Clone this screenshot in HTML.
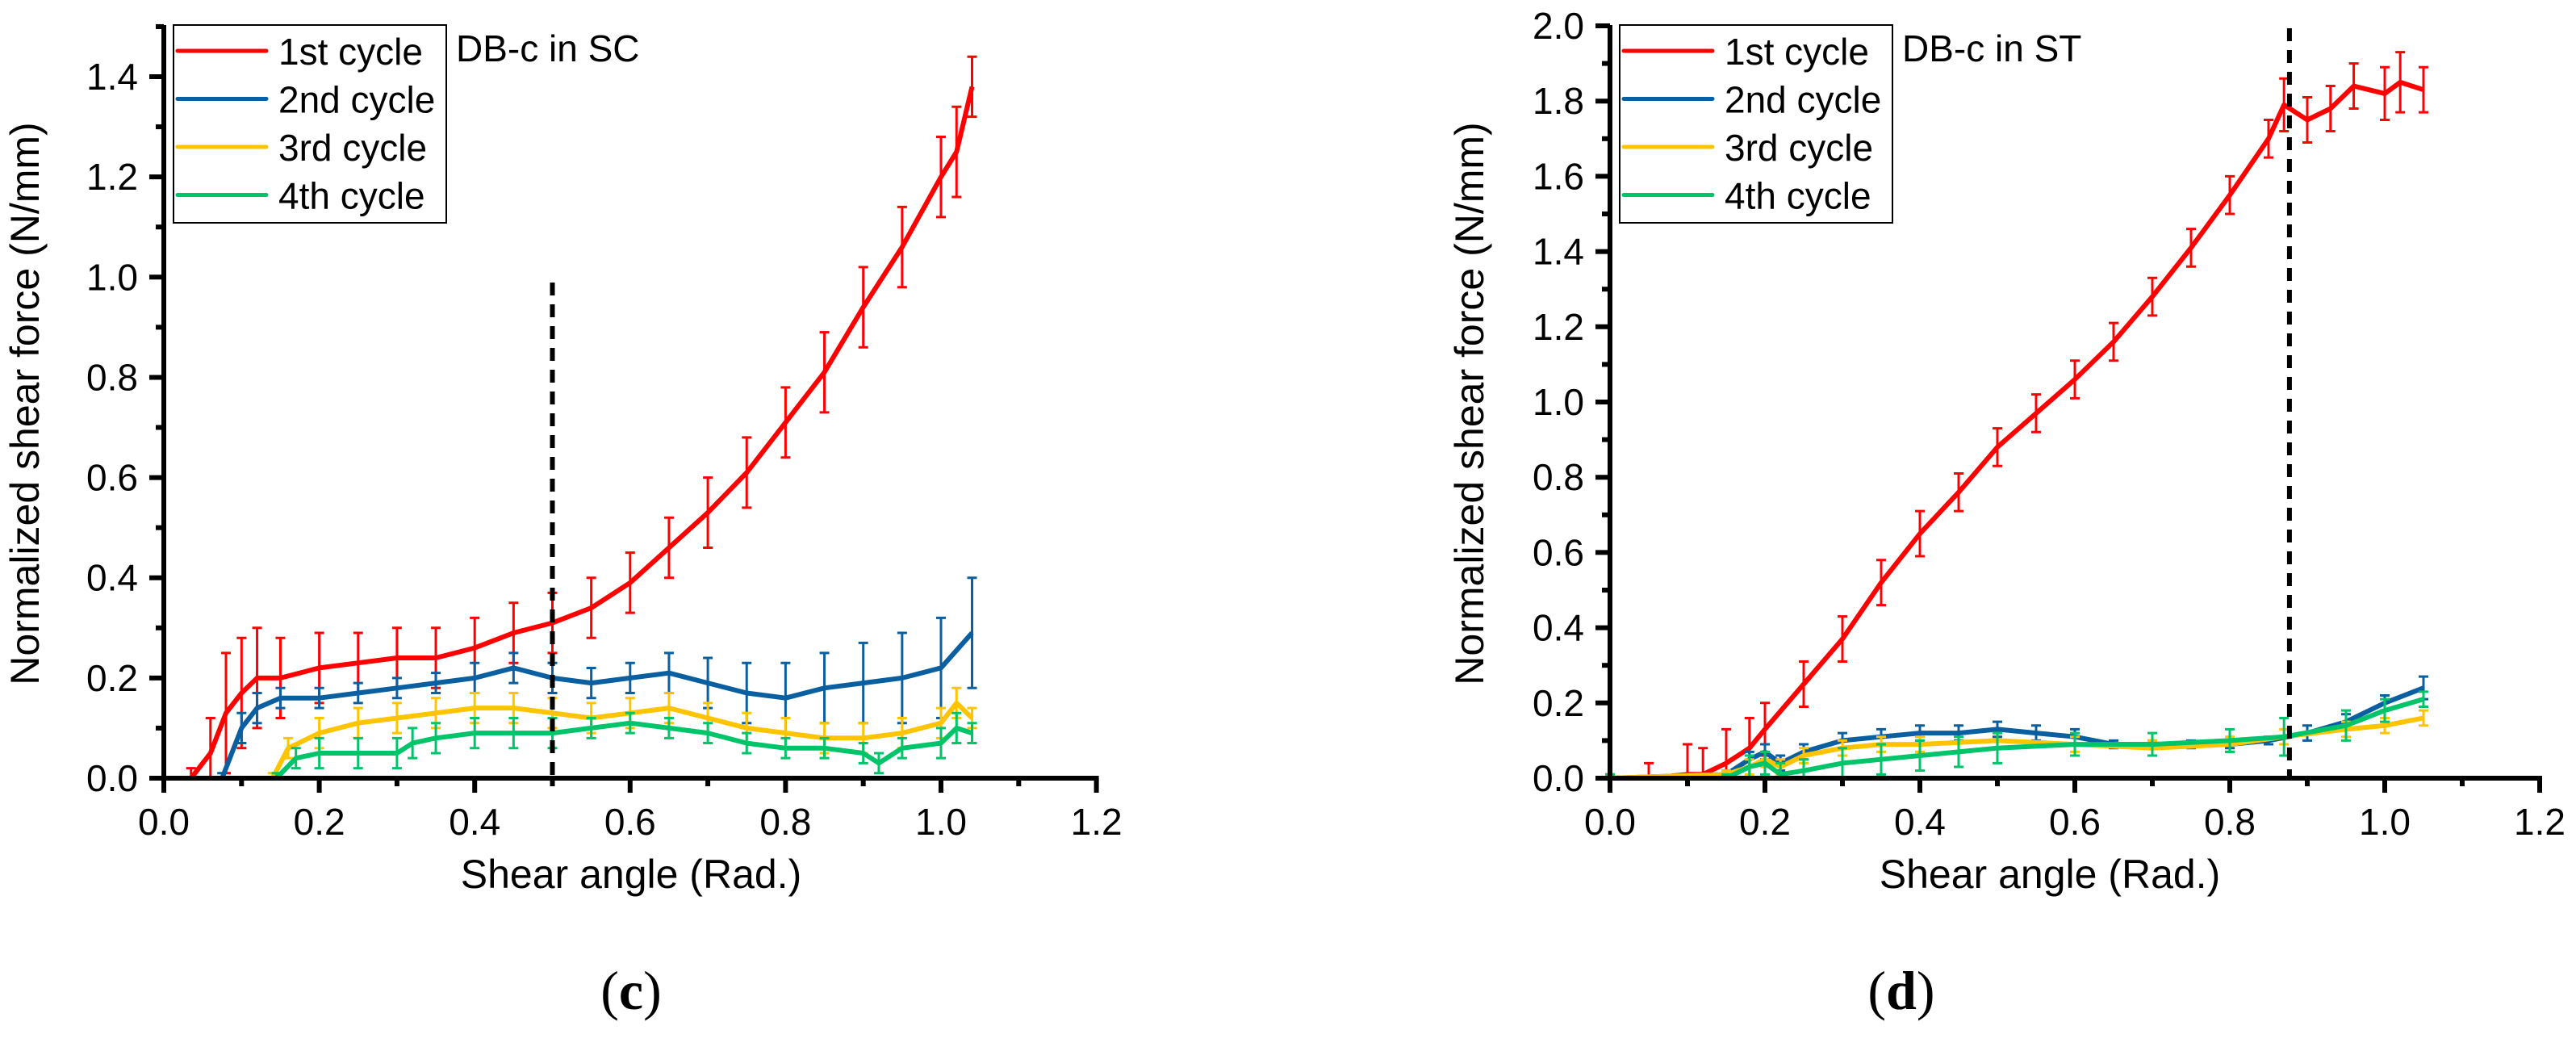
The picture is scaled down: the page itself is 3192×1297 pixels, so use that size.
<!DOCTYPE html>
<html><head><meta charset="utf-8">
<style>
html,body{margin:0;padding:0;background:#fff;}
svg{display:block;font-family:"Liberation Sans",Arial,sans-serif;}
</style></head>
<body>
<svg id="fig" width="3192" height="1297" viewBox="0 0 3192 1297" xmlns="http://www.w3.org/2000/svg">
<rect x="0" y="0" width="3192" height="1297" fill="#fff"/>
<g id="chartC"></g>
<g id="chartD"></g>
<text x="782" y="1250" font-family="Liberation Serif,serif" font-size="68" text-anchor="middle">(<tspan font-weight="bold">c</tspan>)</text>
<text x="2356" y="1250" font-family="Liberation Serif,serif" font-size="68" text-anchor="middle">(<tspan font-weight="bold">d</tspan>)</text>
</svg>
<script>
// ---------- Chart (c) data : DB-c in SC ----------
const cX1 = [0.035,0.06,0.08,0.1,0.12,0.15,0.2,0.25,0.3,0.35,0.4,0.45,0.5,0.55,0.6,0.65,0.7,0.75,0.8,0.85,0.9,0.95,1.0,1.02,1.04];
const cY1 = [0,0.05,0.13,0.17,0.2,0.2,0.22,0.23,0.24,0.24,0.26,0.29,0.31,0.34,0.39,0.46,0.53,0.61,0.71,0.81,0.94,1.06,1.2,1.25,1.38];
const cE1 = [0.02,0.07,0.12,0.11,0.1,0.08,0.07,0.06,0.06,0.06,0.06,0.06,0.06,0.06,0.06,0.06,0.07,0.07,0.07,0.08,0.08,0.08,0.08,0.09,0.06];
const cX2 = [0.075,0.1,0.12,0.15,0.2,0.25,0.3,0.35,0.4,0.45,0.5,0.55,0.6,0.65,0.7,0.75,0.8,0.85,0.9,0.95,1.0,1.04];
const cY2 = [0,0.1,0.14,0.16,0.16,0.17,0.18,0.19,0.2,0.22,0.2,0.19,0.2,0.21,0.19,0.17,0.16,0.18,0.19,0.2,0.22,0.29];
const cE2 = [0.01,0.03,0.03,0.02,0.02,0.02,0.02,0.02,0.03,0.03,0.03,0.03,0.03,0.04,0.05,0.06,0.07,0.07,0.08,0.09,0.1,0.11];
const cX3 = [0.14,0.16,0.2,0.25,0.3,0.35,0.4,0.45,0.5,0.55,0.6,0.65,0.7,0.75,0.8,0.85,0.9,0.95,1.0,1.02,1.04];
const cY3 = [0,0.06,0.09,0.11,0.12,0.13,0.14,0.14,0.13,0.12,0.13,0.14,0.12,0.1,0.09,0.08,0.08,0.09,0.11,0.15,0.12];
const cE3 = [0.01,0.02,0.03,0.03,0.03,0.03,0.03,0.03,0.03,0.03,0.03,0.03,0.03,0.03,0.03,0.03,0.03,0.03,0.03,0.03,0.02];
const cX4 = [0.145,0.17,0.2,0.25,0.3,0.32,0.35,0.4,0.45,0.5,0.55,0.6,0.65,0.7,0.75,0.8,0.85,0.9,0.92,0.95,1.0,1.02,1.04];
const cY4 = [0,0.04,0.05,0.05,0.05,0.07,0.08,0.09,0.09,0.09,0.1,0.11,0.1,0.09,0.07,0.06,0.06,0.05,0.03,0.06,0.07,0.1,0.09];
const cE4 = [0.01,0.02,0.03,0.03,0.03,0.03,0.03,0.03,0.03,0.03,0.02,0.02,0.02,0.02,0.02,0.02,0.02,0.02,0.02,0.02,0.03,0.03,0.02];
const cYTicks = ["0.0","0.2","0.4","0.6","0.8","1.0","1.2","1.4"];
const cXTicks = ["0.0","0.2","0.4","0.6","0.8","1.0","1.2"];

// ---------- Chart (d) data : DB-c in ST ----------
const dX1 = [0,0.05,0.1,0.12,0.15,0.18,0.2,0.25,0.3,0.35,0.4,0.45,0.5,0.55,0.6,0.65,0.7,0.75,0.8,0.85,0.87,0.9,0.93,0.96,1.0,1.02,1.05];
const dY1 = [0,0,0.01,0.01,0.04,0.08,0.13,0.25,0.37,0.52,0.65,0.76,0.88,0.97,1.06,1.16,1.28,1.41,1.55,1.7,1.79,1.75,1.78,1.84,1.82,1.85,1.83];
const dE1 = [0.01,0.04,0.08,0.07,0.09,0.08,0.07,0.06,0.06,0.06,0.06,0.05,0.05,0.05,0.05,0.05,0.05,0.05,0.05,0.05,0.07,0.06,0.06,0.06,0.07,0.08,0.06];
const dX2 = [0,0.15,0.18,0.2,0.22,0.25,0.3,0.35,0.4,0.45,0.5,0.55,0.6,0.65,0.7,0.75,0.8,0.85,0.9,0.95,1.0,1.05];
const dY2 = [0,0.01,0.05,0.07,0.04,0.07,0.1,0.11,0.12,0.12,0.13,0.12,0.11,0.09,0.09,0.09,0.09,0.1,0.12,0.15,0.2,0.24];
const dE2 = [0.01,0.01,0.02,0.02,0.02,0.02,0.02,0.02,0.02,0.02,0.02,0.02,0.02,0.01,0.01,0.01,0.01,0.01,0.02,0.02,0.02,0.03];
const dX3 = [0,0.15,0.18,0.2,0.22,0.25,0.3,0.35,0.4,0.5,0.6,0.7,0.8,0.87,0.95,1.0,1.05];
const dY3 = [0,0.01,0.03,0.05,0.03,0.06,0.08,0.09,0.09,0.1,0.09,0.08,0.09,0.11,0.13,0.14,0.16];
const dE3 = [0.01,0.01,0.02,0.02,0.02,0.02,0.02,0.02,0.02,0.02,0.02,0.02,0.02,0.02,0.02,0.02,0.02];
const dX4 = [0,0.15,0.18,0.2,0.22,0.25,0.3,0.35,0.4,0.45,0.5,0.6,0.7,0.8,0.87,0.95,1.0,1.05];
const dY4 = [0,0,0.03,0.04,0.01,0.02,0.04,0.05,0.06,0.07,0.08,0.09,0.09,0.1,0.11,0.14,0.18,0.21];
const dE4 = [0.01,0.01,0.03,0.03,0.03,0.03,0.04,0.04,0.04,0.04,0.04,0.03,0.03,0.03,0.05,0.04,0.03,0.02];
const dYTicks = ["0.0","0.2","0.4","0.6","0.8","1.0","1.2","1.4","1.6","1.8","2.0"];
const dXTicks = ["0.0","0.2","0.4","0.6","0.8","1.0","1.2"];

const legendLabels = ["1st cycle","2nd cycle","3rd cycle","4th cycle"];
const colors = ["#ff0000","#0a5fa0","#ffc400","#00c46a"];
const NS = "http://www.w3.org/2000/svg";

function mk(parent, tag, attrs){
  const e = document.createElementNS(NS, tag);
  for (const k in attrs) e.setAttribute(k, attrs[k]);
  parent.appendChild(e);
  return e;
}

function drawChart(g, o){
  const sx = v => o.x0 + v * o.xs;
  const sy = v => o.y0 - v * o.ys;
  o.series.forEach((s, i) => {
    const eg = mk(g, "g", {});
    
    
    s.x.forEach((xv, j) => {
      const e = s.e[j], y = s.y[j];
      const x = sx(xv), yt = sy(y + e), yb = sy(Math.max(0, y - e));
      mk(eg, "path", {d:`M${x},${yt}V${yb}M${x-6},${yt}H${x+6}M${x-6},${yb}H${x+6}`, stroke:colors[i], "stroke-width":3, fill:"none"});
    });
    const pts = s.x.map((xv, j) => sx(xv).toFixed(1) + "," + sy(s.y[j]).toFixed(1)).join(" ");
    const pl = mk(g, "polyline", {points:pts, fill:"none", stroke:colors[i], "stroke-width":6, "stroke-linejoin":"round"});
    
    
  });
  const dl = mk(g, "line", {x1:sx(o.dashX), x2:sx(o.dashX), y1:o.dashTop, y2:o.y0, stroke:"#000", "stroke-width":6, "stroke-dasharray":"16,11"});
  
  
  const ax = mk(g, "g", {});
  
  
  mk(ax, "line", {x1:o.x0, x2:o.x0, y1:o.yTop, y2:o.y0+3, stroke:"#000", "stroke-width":6});
  mk(ax, "line", {x1:o.x0-3, x2:sx(1.2)+3, y1:o.y0, y2:o.y0, stroke:"#000", "stroke-width":6});
  o.yTicks.forEach((t, i) => {
    const v = i * 0.2, y = sy(v);
    mk(ax, "line", {x1:o.x0-18, x2:o.x0, y1:y, y2:y, stroke:"#000", "stroke-width":6});
    const tx = mk(ax, "text", {x:o.x0-32, y:y+16, "font-size":46, "text-anchor":"end"});
    tx.textContent = t;
    
    
    const mv = v + 0.1;
    if (sy(mv) >= o.yTop - 1) mk(ax, "line", {x1:o.x0-10, x2:o.x0, y1:sy(mv), y2:sy(mv), stroke:"#000", "stroke-width":6});
  });
  o.xTicks.forEach((t, i) => {
    const v = i * 0.2, x = sx(v);
    mk(ax, "line", {x1:x, x2:x, y1:o.y0, y2:o.y0+18, stroke:"#000", "stroke-width":6});
    if (i < o.xTicks.length - 1) mk(ax, "line", {x1:sx(v+0.1), x2:sx(v+0.1), y1:o.y0, y2:o.y0+10, stroke:"#000", "stroke-width":6});
    const tx = mk(ax, "text", {x:x, y:o.y0+70, "font-size":46, "text-anchor":"middle"});
    tx.textContent = t;
    
    
  });
  const xt = mk(g, "text", {x:o.xTitleX, y:1100, "font-size":50, "text-anchor":"middle"});
  xt.textContent = "Shear angle (Rad.)";
  
  
  const yt = mk(g, "text", {x:0, y:0, "font-size":50, "text-anchor":"middle", transform:`translate(${o.yTitleX},500) rotate(-90)`});
  yt.textContent = "Normalized shear force (N/mm)";
  
  
  const lg = mk(g, "g", {});
  
  
  mk(lg, "rect", {x:o.legX, y:31, width:338, height:245, fill:"#fff", stroke:"#000", "stroke-width":2});
  legendLabels.forEach((lab, i) => {
    const y = 63 + i * 59.5;
    const en = mk(lg, "g", {});
    
    
    mk(en, "line", {x1:o.legX+5, x2:o.legX+115, y1:y, y2:y, stroke:colors[i], "stroke-width":5, "stroke-linecap":"round"});
    const t = mk(en, "text", {x:o.legX+130, y:y+17, "font-size":46});
    t.textContent = lab;
  });
  const ct = mk(g, "text", {x:o.legX+350, y:76, "font-size":46});
  ct.textContent = o.caption;
  
  
}

drawChart(document.getElementById("chartC"), {
  x0:203, xs:963, y0:964, ys:620.7, yTop:31,
  yTicks:cYTicks, xTicks:cXTicks, dashX:0.5, dashTop:350,
  xTitleX:782, yTitleX:48, legX:215, caption:"DB-c in SC",
  series:[{x:cX1,y:cY1,e:cE1},{x:cX2,y:cY2,e:cE2},{x:cX3,y:cY3,e:cE3},{x:cX4,y:cY4,e:cE4}]
});
drawChart(document.getElementById("chartD"), {
  x0:1995, xs:960, y0:964, ys:466, yTop:31,
  yTicks:dYTicks, xTicks:dXTicks, dashX:0.877, dashTop:35,
  xTitleX:2540, yTitleX:1838, legX:2007, caption:"DB-c in ST",
  series:[{x:dX1,y:dY1,e:dE1},{x:dX2,y:dY2,e:dE2},{x:dX3,y:dY3,e:dE3},{x:dX4,y:dY4,e:dE4}]
});
</script>
</body></html>
